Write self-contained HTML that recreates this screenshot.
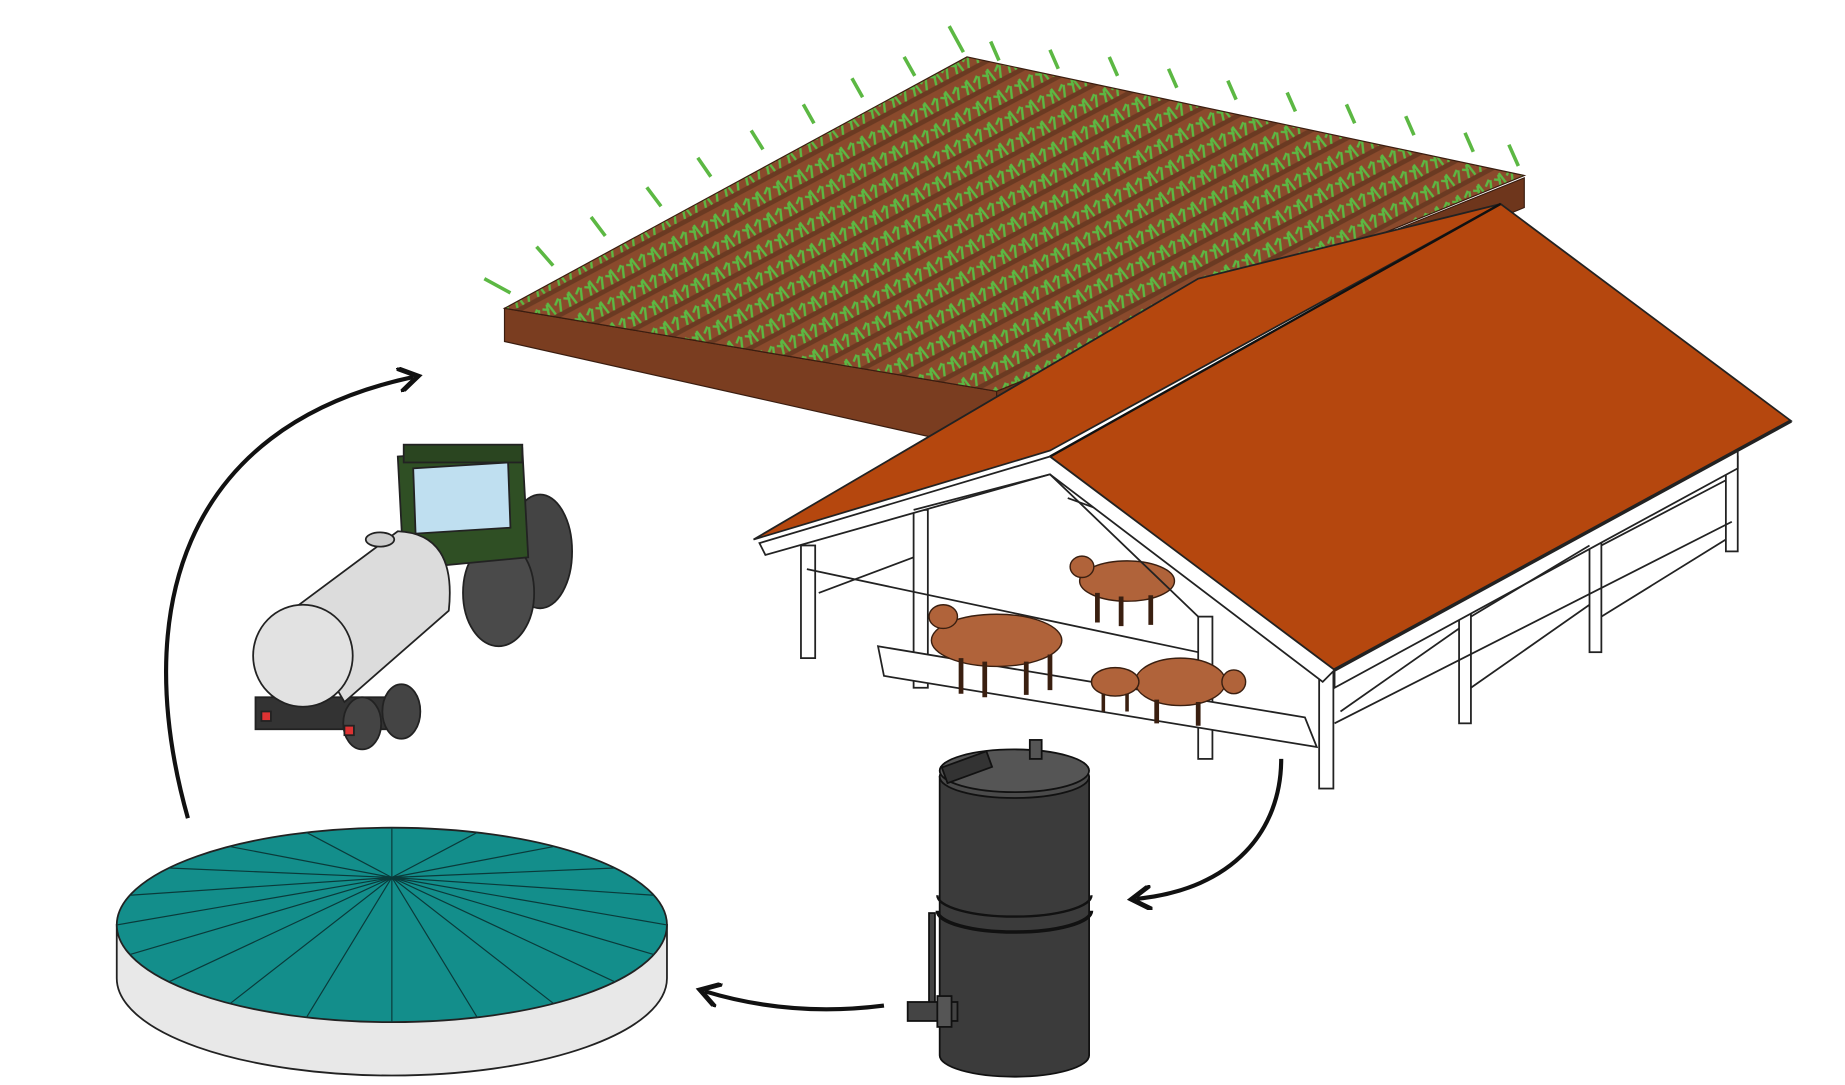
<!DOCTYPE html>
<html><head><meta charset="utf-8"><style>
html,body{margin:0;padding:0;background:#fff;}
svg{display:block;}
</style></head><body>
<svg width="1845" height="1085" viewBox="0 0 1555 915" xmlns="http://www.w3.org/2000/svg">
<defs>
<marker id="ah" viewBox="0 0 10 10" refX="6" refY="5" markerWidth="6" markerHeight="6" orient="auto">
<path d="M0,0 L8,5 L0,10" fill="none" stroke="#111" stroke-width="2"/>
</marker>
<pattern id="rows" width="20" height="20" patternUnits="userSpaceOnUse" patternTransform="rotate(-28)">
<rect width="20" height="20" fill="#8a4a2c"/>
<rect y="14" width="20" height="4" fill="#6b3a22"/>
<path d="M3,14 l3,-11 M9,14 l-2,-12 M14,14 l4,-10 M6,8 l-5,-3 M12,7 l5,-4" stroke="#5cb843" stroke-width="2"/>
</pattern>
</defs>
<rect width="1555" height="915" fill="#fff"/>

<!-- field -->
<polygon points="425,260 425,288 800,372 840,360 840,330" fill="#7a3d20" stroke="#3a1d10"/>
<polygon points="1285,150 1285,175 840,360 840,330" fill="#6e361c" stroke="#3a1d10"/>
<polygon points="425,260 815,48 1285,148 840,330" fill="url(#rows)" stroke="#3a1d10"/>
<g stroke="#5cb843" stroke-width="3" fill="none">
<path d="M408,235 l22,12 M452,208 l14,16 M498,183 l12,16 M545,158 l12,16 M588,133 l11,16 M633,110 l10,16 M677,88 l9,16 M718,66 l9,16 M762,48 l9,16 M800,22 l12,22"/>
<path d="M835,35 l7,16 M885,42 l7,16 M935,48 l7,16 M985,58 l7,16 M1035,68 l7,16 M1085,78 l7,16 M1135,88 l7,16 M1185,98 l7,16 M1235,112 l7,16 M1272,122 l8,18"/>
</g>

<!-- barn structure -->
<g stroke="#222" stroke-width="1.5" fill="#fff">
<rect x="675" y="460" width="12" height="95"/>
<rect x="770" y="430" width="12" height="150"/>
<rect x="1010" y="520" width="12" height="120"/>
<rect x="1112" y="565" width="12" height="100"/>
<rect x="1230" y="500" width="10" height="110"/>
<rect x="1340" y="440" width="10" height="110"/>
<rect x="1455" y="385" width="10" height="80"/>
<polygon points="740,545 1100,605 1110,630 745,570"/>
<polygon points="1125,560 1465,380 1465,395 1125,580"/>
<line x1="680" y1="480" x2="1010" y2="550"/>
<line x1="690" y1="500" x2="770" y2="470"/>
<line x1="1125" y1="610" x2="1460" y2="440"/>
<line x1="1240" y1="520" x2="1340" y2="460"/>
<line x1="1240" y1="580" x2="1340" y2="510"/>
<line x1="1350" y1="460" x2="1455" y2="405"/>
<line x1="1350" y1="520" x2="1455" y2="455"/>
<line x1="1130" y1="600" x2="1230" y2="530"/>
<line x1="900" y1="420" x2="1010" y2="460"/>
</g>
<!-- cows -->
<g fill="#b0633a" stroke="#3a1f10" stroke-width="1.2">
<ellipse cx="840" cy="540" rx="55" ry="22"/><ellipse cx="795" cy="520" rx="12" ry="10"/>
<path d="M810,555 v30 M830,558 v30 M865,558 v28 M885,552 v30" stroke-width="4"/>
<ellipse cx="950" cy="490" rx="40" ry="17"/><ellipse cx="912" cy="478" rx="10" ry="9"/>
<path d="M925,500 v25 M945,503 v25 M970,502 v25" stroke-width="4"/>
<ellipse cx="995" cy="575" rx="38" ry="20"/><ellipse cx="1040" cy="575" rx="10" ry="10"/>
<path d="M975,590 v20 M1010,592 v20" stroke-width="4"/>
<ellipse cx="940" cy="575" rx="20" ry="12"/><path d="M930,585 v15 M950,585 v15" stroke-width="3"/>
</g>
<!-- roof -->
<polygon points="635,455 885,380 1265,172 1010,235" fill="#b5470e" stroke="#222" stroke-width="1.5"/>
<polygon points="885,385 1265,172 1510,355 1125,565" fill="#b5470e" stroke="#222" stroke-width="1.5"/>
<line x1="885" y1="385" x2="1265" y2="172" stroke="#111" stroke-width="2"/>
<polygon points="640,458 885,385 1125,565 1115,575 885,400 645,468" fill="#fff" stroke="#222" stroke-width="1.5"/>
<polyline points="770,430 885,400 1010,520" fill="none" stroke="#222" stroke-width="1.5"/>
<line x1="1125" y1="565" x2="1510" y2="355" stroke="#222" stroke-width="3"/>

<!-- tractor -->
<g stroke="#222" stroke-width="1.5">
<ellipse cx="455" cy="465" rx="27" ry="48" fill="#444"/>
<ellipse cx="420" cy="500" rx="30" ry="45" fill="#4a4a4a"/>
<polygon points="335,385 440,378 445,470 340,480" fill="#2f4f24"/>
<polygon points="348,395 428,390 430,445 350,450" fill="#bfdff0"/>
<rect x="340" y="375" width="100" height="15" fill="#2a4520"/>
<rect x="215" y="588" width="130" height="27" fill="#333"/>
<ellipse cx="305" cy="610" rx="16" ry="22" fill="#444"/>
<ellipse cx="338" cy="600" rx="16" ry="23" fill="#444"/>
<path d="M245,515 L335,448 Q385,450 378,515 L290,592 Z" fill="#dcdcdc"/>
<ellipse cx="255" cy="553" rx="42" ry="43" fill="#e2e2e2"/>
<ellipse cx="320" cy="455" rx="12" ry="6" fill="#ccc"/>
<rect x="220" y="600" width="8" height="8" fill="#d33"/><rect x="290" y="612" width="8" height="8" fill="#d33"/>
</g>

<!-- digester -->
<g stroke="#111" stroke-width="1.5">
<path d="M792,655 L792,890 A63,18 0 0 0 918,890 L918,655 Z" fill="#3b3b3b"/>
<ellipse cx="855" cy="655" rx="63" ry="18" fill="#4a4a4a"/>
<ellipse cx="855" cy="650" rx="63" ry="18" fill="#555"/>
<path d="M790,768 A65,18 0 0 0 920,768" fill="none" stroke-width="3"/>
<path d="M790,755 A65,18 0 0 0 920,755" fill="none" stroke-width="2"/>
<rect x="795" y="640" width="40" height="14" fill="#333" transform="rotate(-20 815 647)"/>
<rect x="868" y="624" width="10" height="16" fill="#555"/>
<rect x="783" y="770" width="5" height="80" fill="#444"/>
<rect x="765" y="845" width="42" height="16" fill="#444"/>
<rect x="790" y="840" width="12" height="26" fill="#555"/>
</g>

<!-- pool -->
<path d="M98,780 L98,825 A232,82 0 0 0 562,825 L562,780 Z" fill="#e8e8e8" stroke="#222" stroke-width="1.5"/>
<ellipse cx="330" cy="780" rx="232" ry="82" fill="#138e8b" stroke="#222" stroke-width="1.5"/>
<g stroke="#0a3a3a" stroke-width="1">
<path d="M330,740 L562,780 M330,740 L551,805 M330,740 L518,828 M330,740 L466,846 M330,740 L402,858 M330,740 L330,862 M330,740 L258,858 M330,740 L194,846 M330,740 L142,828 M330,740 L109,805 M330,740 L98,780 M330,740 L109,755 M330,740 L142,732 M330,740 L194,714 M330,740 L258,702 M330,740 L330,698 M330,740 L402,702 M330,740 L466,714 M330,740 L518,732 M330,740 L551,755"/>
</g>

<!-- arrows -->
<g fill="none" stroke="#111" stroke-width="3.5" marker-end="url(#ah)">
<path d="M158,690 C110,520 150,360 348,318"/>
<path d="M1080,640 C1080,700 1040,750 958,758"/>
<path d="M745,848 C690,855 640,850 594,836"/>
</g>
</svg>
</body></html>
